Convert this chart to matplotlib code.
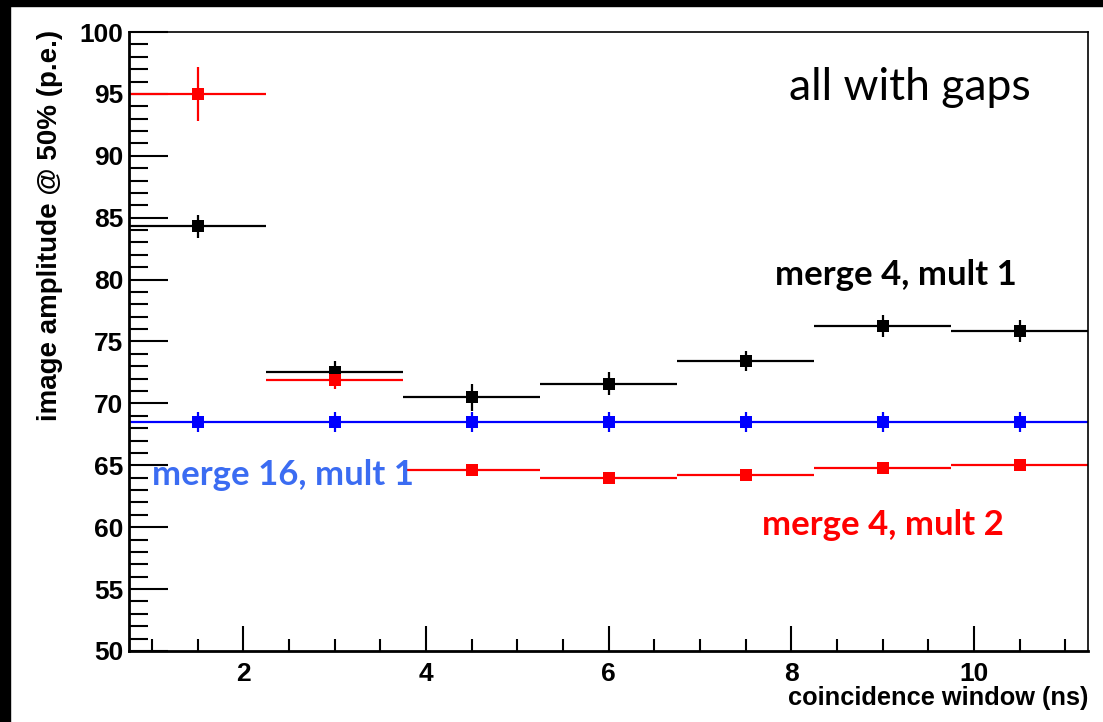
import matplotlib.pyplot as plt
import numpy as np
from matplotlib.patches import Rectangle
from matplotlib.ticker import MultipleLocator

# bins of the coincidence window scan
window = [1.5, 3.0, 4.5, 6.0, 7.5, 9.0, 10.5]
half_width = 0.75

m4_mult1 = [84.3, 72.5, 70.5, 71.6, 73.4, 76.25, 75.85]
m4_mult1_err = [0.9, 0.9, 1.1, 0.9, 0.8, 0.9, 0.9]

m4_mult2 = [95.0, 71.9, 64.65, 64.0, 64.2, 64.75, 65.0]
m4_mult2_err = [2.2, 0.7, 0.4, 0.35, 0.4, 0.35, 0.35]

m16_mult1 = [68.5, 68.5, 68.5, 68.5, 68.5, 68.5, 68.5]
m16_mult1_err = [0.8, 0.8, 0.8, 0.8, 0.8, 0.8, 0.8]

plt.rcParams['font.family'] = ['Liberation Sans', 'DejaVu Sans']

fig = plt.figure(figsize=(11.03, 7.22), dpi=100)
ax = fig.add_axes([129/1103, 1-651/722, (1088-129)/1103, (651-32)/722])

# dark frame on the top and left edge
fig.patches.append(Rectangle((0, 1-6/722), 1, 6/722, transform=fig.transFigure,
                             color='black', zorder=0))
fig.patches.append(Rectangle((0, 0), 10/1103, 1, transform=fig.transFigure,
                             color='black', zorder=0))

def draw(y, yerr, col):
    ax.errorbar(window, y, xerr=half_width, yerr=yerr, fmt='s', color=col,
                ms=8, elinewidth=1.6, capsize=0, mew=0)

draw(m16_mult1, m16_mult1_err, 'blue')
draw(m4_mult1, m4_mult1_err, 'black')
draw(m4_mult2, m4_mult2_err, 'red')

ax.set_xlim(0.75, 11.25)
ax.set_ylim(50, 100)
ax.xaxis.set_major_locator(MultipleLocator(2))
ax.xaxis.set_minor_locator(MultipleLocator(0.5))
ax.yaxis.set_major_locator(MultipleLocator(5))
ax.yaxis.set_minor_locator(MultipleLocator(1))
ax.tick_params(which='both', direction='in', width=1.5, labelsize=19)
ax.tick_params(axis='x', which='major', length=18, pad=8)
ax.tick_params(axis='x', which='minor', length=9)
ax.tick_params(axis='y', which='major', length=28, pad=4)
ax.tick_params(axis='y', which='minor', length=14)
for lab in ax.get_xticklabels() + ax.get_yticklabels():
    lab.set_fontweight('bold')
for side in ['left', 'bottom']:
    ax.spines[side].set_linewidth(2)
for side in ['top', 'right']:
    ax.spines[side].set_linewidth(1.2)

fig.text(1088/1103, 1-698/722, 'coincidence window (ns)', ha='right', va='center',
         fontsize=18.3, fontweight='bold')
fig.text(50/1103, 1-30/722, 'image amplitude @ 50% (p.e.)', ha='center', va='top',
         rotation=90, fontsize=20, fontweight='bold')

ax.text(0.94, 0.91, 'all with gaps', transform=ax.transAxes, ha='right', va='center',
        fontsize=32, family='Lato')
ax.text(9.15, 80.4, 'merge 4, mult 1', ha='center', va='center',
        fontsize=25, fontweight='bold', family='Lato')
ax.text(9.0, 60.2, 'merge 4, mult 2', ha='center', va='center', color='#ff0000',
        fontsize=25, fontweight='bold', family='Lato')
ax.text(1.0, 64.2, 'merge 16, mult 1', ha='left', va='center', color='#3b6cf2',
        fontsize=25, fontweight='bold', family='Lato')

fig.savefig('out.png', dpi=100)
